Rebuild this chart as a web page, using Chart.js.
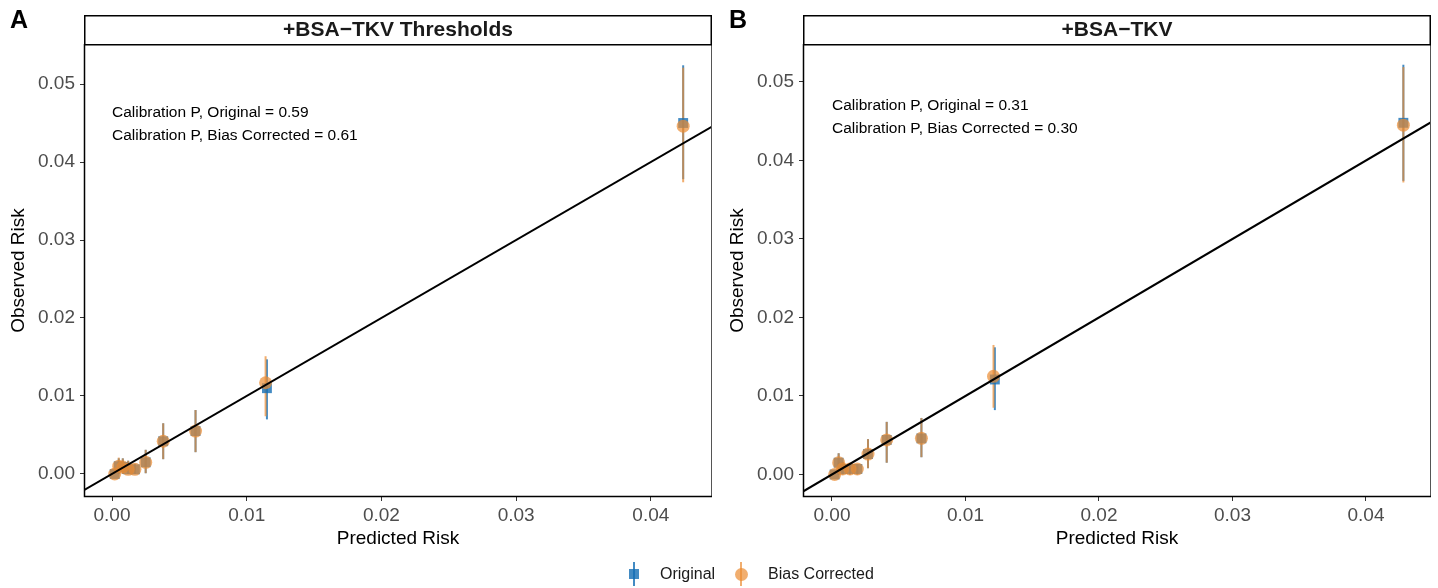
<!DOCTYPE html>
<html><head><meta charset="utf-8">
<script src="https://cdn.jsdelivr.net/npm/chart.js@4.4.1/dist/chart.umd.min.js"></script>
<style>
html,body{margin:0;padding:0;background:#fff;}
body{width:1438px;height:588px;position:relative;overflow:hidden;font-family:"Liberation Sans",Arial,Helvetica,sans-serif;}
canvas{position:absolute;top:0;}
#ca{left:0}#cb{left:719px}
.leg{position:absolute;top:564px;font-size:16px;line-height:20px;color:#1a1a1a;white-space:nowrap}
.ebar{position:absolute;top:562px;width:2px;height:24px}
</style></head><body>
<canvas id="ca" width="719" height="588"></canvas>
<canvas id="cb" width="719" height="588"></canvas>
<div class="ebar" style="left:633px;background:rgba(20,110,180,0.8)"></div>
<div style="position:absolute;left:629px;top:569px;width:10px;height:10px;background:rgba(20,110,180,0.8)"></div>
<div class="leg" style="left:660px">Original</div>
<div class="ebar" style="left:740px;background:rgba(235,140,50,0.7)"></div>
<div style="position:absolute;left:734.5px;top:567.5px;width:13px;height:13px;border-radius:50%;background:rgba(235,140,50,0.7)"></div>
<div class="leg" style="left:768px">Bias Corrected</div>
<script>
// ---------- data ----------
const xTickValues = [0, 0.01, 0.02, 0.03, 0.04];
const yTickValues = [0, 0.01, 0.02, 0.03, 0.04, 0.05];
const identityLine = [-0.01, 0.06];

// Panel A: +BSA−TKV Thresholds
const aPredOriginal = [0.0002, 0.0005, 0.0008, 0.0012, 0.0017, 0.0025, 0.0038, 0.0062, 0.0115, 0.0424];
const aObsOriginal  = [0.0000, 0.0010, 0.0009, 0.0006, 0.0006, 0.0015, 0.0042, 0.0055, 0.0110, 0.0450];
const aLowOriginal  = [0.0000, 0.0000, 0.0000, 0.0000, 0.0000, 0.0001, 0.0019, 0.0028, 0.0070, 0.0378];
const aHighOriginal = [0.0004, 0.0020, 0.0020, 0.0017, 0.0013, 0.0031, 0.0065, 0.0082, 0.0147, 0.0524];
const aPredBias = [0.0002, 0.0005, 0.0008, 0.0012, 0.0017, 0.0025, 0.0038, 0.0062, 0.0114, 0.0424];
const aObsBias  = [0.0000, 0.0010, 0.0009, 0.0006, 0.0006, 0.0015, 0.0042, 0.0055, 0.0117, 0.0446];
const aLowBias  = [0.0000, 0.0000, 0.0000, 0.0000, 0.0000, 0.0001, 0.0019, 0.0028, 0.0074, 0.0374];
const aHighBias = [0.0004, 0.0021, 0.0020, 0.0017, 0.0013, 0.0031, 0.0065, 0.0082, 0.0151, 0.0521];
const aNotes = ["Calibration P, Original = 0.59", "Calibration P, Bias Corrected = 0.61"];

// Panel B: +BSA−TKV
const bPredOriginal = [0.0002, 0.0005, 0.0008, 0.00135, 0.0019, 0.0027, 0.0041, 0.0067, 0.0122, 0.0428];
const bObsOriginal  = [0.0000, 0.0015, 0.0007, 0.0007, 0.0007, 0.0026, 0.0044, 0.0046, 0.0121, 0.0448];
const bLowOriginal  = [0.0000, 0.0000, 0.0000, 0.0000, 0.0000, 0.0008, 0.0015, 0.0022, 0.0082, 0.0374];
const bHighOriginal = [0.0004, 0.0027, 0.0016, 0.0014, 0.0013, 0.0045, 0.0067, 0.0072, 0.0162, 0.0522];
const bPredBias = [0.0002, 0.0005, 0.0008, 0.00135, 0.0019, 0.0027, 0.0041, 0.0067, 0.0121, 0.0428];
const bObsBias  = [0.0000, 0.0015, 0.0007, 0.0007, 0.0007, 0.0026, 0.0044, 0.0046, 0.0125, 0.0445];
const bLowBias  = [0.0000, 0.0000, 0.0000, 0.0000, 0.0000, 0.0008, 0.0015, 0.0022, 0.0085, 0.0372];
const bHighBias = [0.0004, 0.0027, 0.0016, 0.0014, 0.0013, 0.0045, 0.0067, 0.0072, 0.0165, 0.0519];
const bNotes = ["Calibration P, Original = 0.31", "Calibration P, Bias Corrected = 0.30"];

// ---------- styling ----------
const FONT = '"Liberation Sans", Arial, Helvetica, sans-serif';
const BLUE = 'rgba(20,110,180,0.8)';
const ORANGE = 'rgba(235,140,50,0.7)';
Chart.defaults.font.family = FONT;

const panelPlugin = {
  id: 'panelDecor',
  beforeDatasetsDraw(chart, args, o) {
    const ctx = chart.ctx, xs = chart.scales.x, ys = chart.scales.y, a = chart.chartArea;
    ctx.save();
    ctx.beginPath(); ctx.rect(a.left, a.top, a.right - a.left, a.bottom - a.top); ctx.clip();
    o.bars.forEach(eb => {
      ctx.strokeStyle = eb.color; ctx.lineWidth = 2;
      eb.x.forEach((xv, i) => {
        const px = xs.getPixelForValue(xv);
        ctx.beginPath();
        ctx.moveTo(px, ys.getPixelForValue(eb.low[i]));
        ctx.lineTo(px, ys.getPixelForValue(eb.high[i]));
        ctx.stroke();
      });
    });
    ctx.restore();
  },
  afterDraw(chart, args, o) {
    const ctx = chart.ctx, a = chart.chartArea, xs = chart.scales.x, ys = chart.scales.y;
    ctx.save();
    // panel border
    ctx.strokeStyle = '#555'; ctx.lineWidth = 1;
    ctx.strokeRect(a.left + 0.5, a.top + 0.5, a.right - a.left - 1, a.bottom - a.top - 1);
    ctx.strokeStyle = '#000'; ctx.lineWidth = 1.5;
    ctx.beginPath(); ctx.moveTo(a.left + 0.5, a.top); ctx.lineTo(a.left + 0.5, a.bottom - 0.5); ctx.lineTo(a.right, a.bottom - 0.5); ctx.stroke();
    // strip
    const sh = 29;
    ctx.fillStyle = '#fff'; ctx.fillRect(a.left, a.top - sh, a.right - a.left, sh);
    ctx.strokeStyle = '#000'; ctx.lineWidth = 1.5;
    ctx.strokeRect(a.left + 0.75, a.top - sh + 0.75, a.right - a.left - 1.5, sh);
    ctx.fillStyle = '#1a1a1a'; ctx.font = 'bold 21px ' + FONT; ctx.textAlign = 'center'; ctx.textBaseline = 'middle';
    ctx.fillText(o.strip, (a.left + a.right) / 2, a.top - sh / 2 + 1);
    // panel letter
    ctx.fillStyle = '#000'; ctx.font = 'bold 25px ' + FONT; ctx.textAlign = 'left';
    ctx.fillText(o.letter, 10, 21);
    // annotation
    ctx.font = '15.5px ' + FONT; ctx.fillStyle = '#000';
    const tx = xs.getPixelForValue(o.noteX), ty = ys.getPixelForValue(o.noteY);
    o.notes.forEach((t, i) => ctx.fillText(t, tx, ty + i * 23));
    ctx.restore();
  }
};

function makeChart(id, c) {
  const pts = (xa, ya) => xa.map((x, i) => ({ x: x, y: ya[i] }));
  new Chart(document.getElementById(id), {
    type: 'scatter',
    data: {
      datasets: [
        { label: 'identity', type: 'line', data: identityLine.map(v => ({ x: v, y: v })), borderColor: '#000', borderWidth: 2, pointRadius: 0, fill: false, order: 0, clip: 0 },
        { label: 'Bias Corrected', data: pts(c.predBias, c.obsBias), pointStyle: 'circle', pointRadius: 6.5, backgroundColor: ORANGE, borderWidth: 0, order: 1 },
        { label: 'Original', data: pts(c.predOrig, c.obsOrig), pointStyle: 'rect', pointRadius: 7, backgroundColor: BLUE, borderWidth: 0, order: 2 }
      ]
    },
    options: {
      responsive: false, animation: false, events: [],
      layout: { padding: { left: 7, right: 7, top: 44, bottom: 38 } },
      plugins: {
        legend: { display: false }, tooltip: { enabled: false },
        panelDecor: {
          strip: c.strip, letter: c.letter, notes: c.notes, noteX: 0, noteY: c.noteY,
          bars: [
            { color: BLUE, x: c.predOrig, low: c.lowOrig, high: c.highOrig },
            { color: ORANGE, x: c.predBias, low: c.lowBias, high: c.highBias }
          ]
        }
      },
      scales: {
        x: {
          type: 'linear', min: c.xMin, max: c.xMax,
          afterBuildTicks: s => { s.ticks = xTickValues.map(v => ({ value: v })); },
          afterFit: s => { s.height = 53; },
          ticks: { callback: v => v.toFixed(2), color: '#4d4d4d', font: { size: 19 }, padding: 3, maxRotation: 0, autoSkip: false },
          grid: { drawOnChartArea: false, drawTicks: true, tickLength: 4, color: '#333' },
          border: { display: false },
          title: { display: true, text: 'Predicted Risk', color: '#000', font: { size: 19 }, padding: 0 }
        },
        y: {
          type: 'linear', min: c.yMin, max: c.yMax,
          afterBuildTicks: s => { s.ticks = yTickValues.map(v => ({ value: v })); },
          afterFit: s => { s.width = 77; },
          ticks: { callback: v => v.toFixed(2), color: '#4d4d4d', font: { size: 19 }, padding: 5, autoSkip: false },
          grid: { drawOnChartArea: false, drawTicks: true, tickLength: 4, color: '#333' },
          border: { display: false },
          title: { display: true, text: 'Observed Risk', color: '#000', font: { size: 19 }, padding: 0 }
        }
      }
    },
    plugins: [panelPlugin]
  });
}

makeChart('ca', {
  strip: '+BSA\u2212TKV Thresholds', letter: 'A', notes: aNotes, noteY: 0.0463,
  xMin: -0.00208, xMax: 0.04454, yMin: -0.00295, yMax: 0.05513,
  predOrig: aPredOriginal, obsOrig: aObsOriginal, lowOrig: aLowOriginal, highOrig: aHighOriginal,
  predBias: aPredBias, obsBias: aObsBias, lowBias: aLowBias, highBias: aHighBias
});
makeChart('cb', {
  strip: '+BSA\u2212TKV', letter: 'B', notes: bNotes, noteY: 0.0470,
  xMin: -0.00217, xMax: 0.04487, yMin: -0.00287, yMax: 0.05484,
  predOrig: bPredOriginal, obsOrig: bObsOriginal, lowOrig: bLowOriginal, highOrig: bHighOriginal,
  predBias: bPredBias, obsBias: bObsBias, lowBias: bLowBias, highBias: bHighBias
});
</script>
</body></html>
